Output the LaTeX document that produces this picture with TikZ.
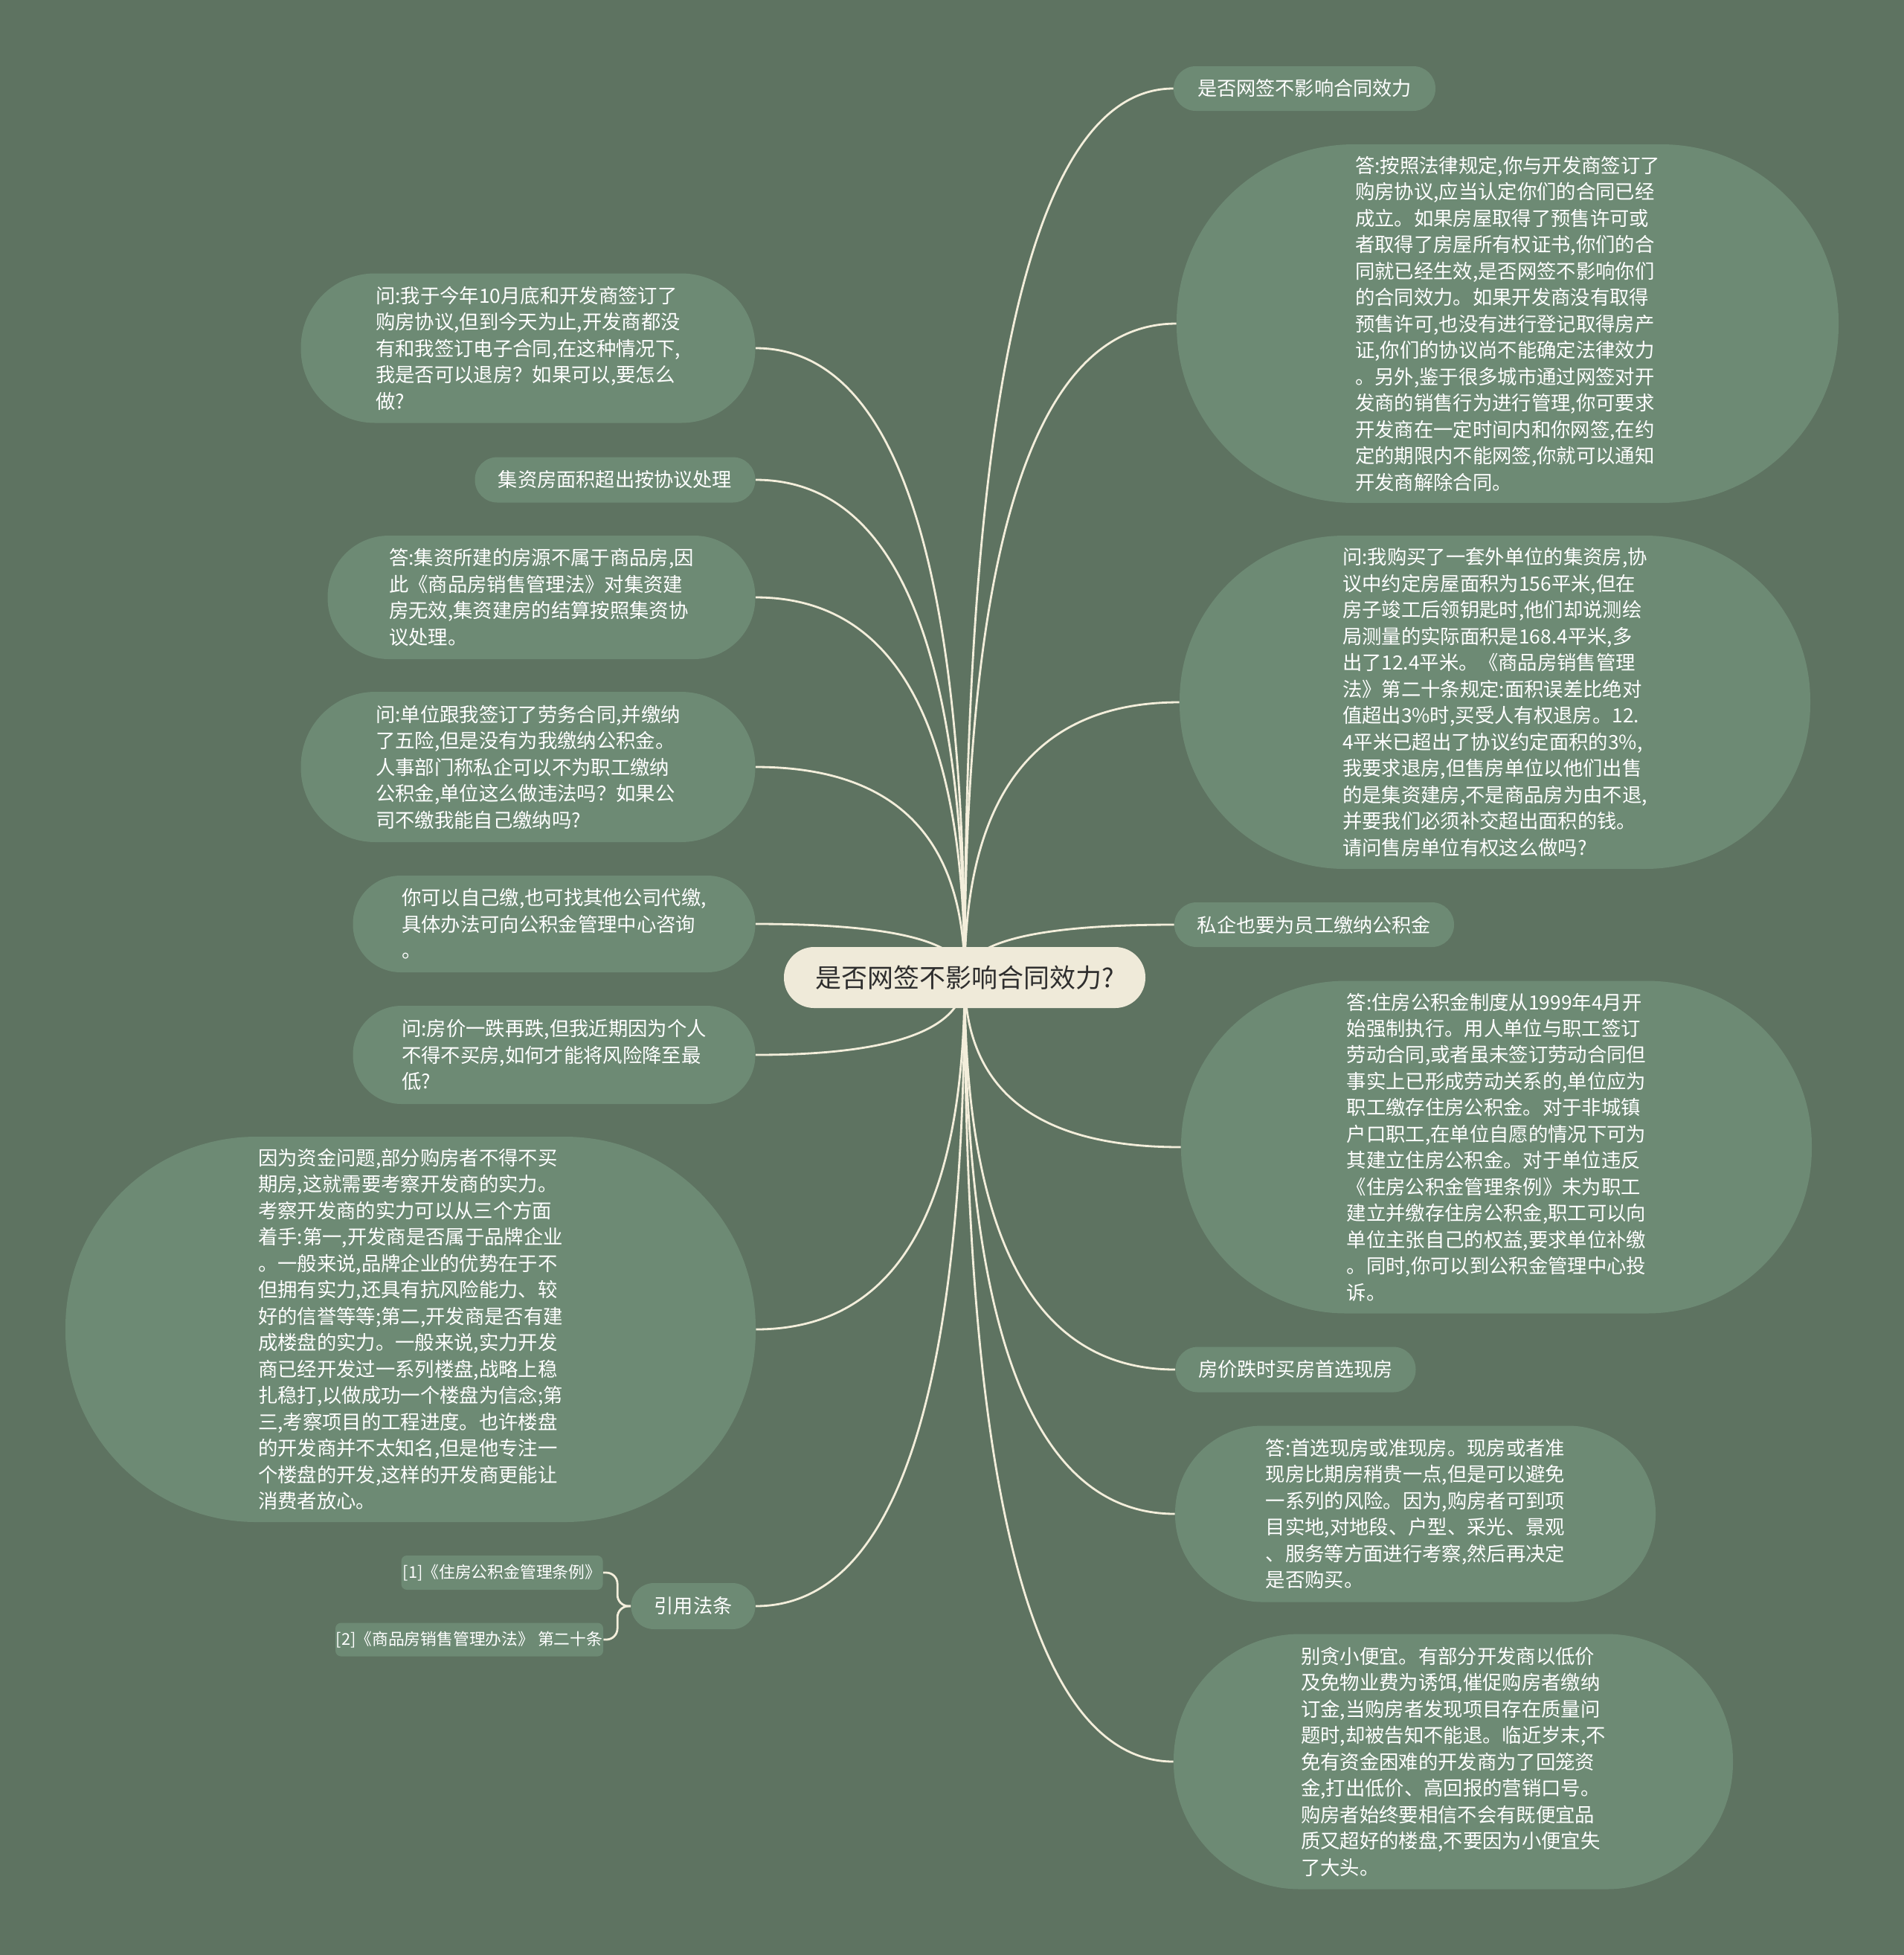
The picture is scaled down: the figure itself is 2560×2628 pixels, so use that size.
\documentclass[tikz,border=0pt]{standalone}
\usepackage{fontspec}
\newfontfamily\cjk{Noto Sans CJK SC}
\usetikzlibrary{calc}
\definecolor{MapGround}{HTML}{5E7361}
\definecolor{MapLeaf}{HTML}{6D8A74}
\definecolor{MapCream}{HTML}{EFEAD9}
\definecolor{MapLine}{HTML}{F3EEDB}
\definecolor{MapInk}{HTML}{2E2E2E}
\pgfdeclarelayer{ground}
\pgfdeclarelayer{links}
\pgfsetlayers{ground,links,main}
\tikzset{
  mapleaf/.style={
    fill=MapLeaf,
    text=white,
    align=left,
    inner xsep=0pt,
    inner ysep=3pt,
    font=\cjk\fontsize{15}{20.2}\selectfont
  },
  maptopic/.style={mapleaf,font=\cjk\fontsize{14.9}{20}\selectfont},
  mapref/.style={mapleaf,font=\cjk\fontsize{12.4}{16}\selectfont},
  maphub/.style={
    fill=MapCream,
    text=MapInk,
    font=\cjk\fontsize{19.9}{24}\selectfont
  },
  pill/.style 2 args={minimum width=#1*0.02cm,minimum height=#2*0.02cm,rounded corners=#2*0.0099cm},
  maplink/.style={draw=MapLine,line width=1.6pt},
  branch/.style={to path={.. controls ($(\tikztostart)!.667!(\tikztostart |- \tikztotarget)$)
    and ($(\tikztotarget)!.667!(\tikztostart |- \tikztotarget)$) .. (\tikztotarget)}}
}

\begin{document}
\begin{tikzpicture}[x=0.02cm,y=-0.02cm]
  \useasboundingbox (0,0) rectangle (2560,2628);
  \begin{pgfonlayer}{ground}
    \fill[MapGround] (0,0) rectangle (2560,2628);
  \end{pgfonlayer}

  \node[maphub,pill={486}{82}] (hub) at (1297,1314) {是否网签不影响合同效力?};

  % right side
  \node[maptopic,pill={352}{60}] (netsign) at (1754,119) {是否网签不影响合同效力};
  \node[mapleaf,pill={890}{482}] (signans) at (2027,435) {答:按照法律规定,你与开发商签订了\\购房协议,应当认定你们的合同已经\\成立。如果房屋取得了预售许可或\\者取得了房屋所有权证书,你们的合\\同就已经生效,是否网签不影响你们\\的合同效力。如果开发商没有取得\\预售许可,也没有进行登记取得房产\\证,你们的协议尚不能确定法律效力\\。另外,鉴于很多城市通过网签对开\\发商的销售行为进行管理,你可要求\\开发商在一定时间内和你网签,在约\\定的期限内不能网签,你就可以通知\\开发商解除合同。};
  \node[mapleaf,pill={848}{448}] (jiziq) at (2010,944) {问:我购买了一套外单位的集资房,协\\议中约定房屋面积为156平米,但在\\房子竣工后领钥匙时,他们却说测绘\\局测量的实际面积是168.4平米,多\\出了12.4平米。《商品房销售管理\\法》第二十条规定:面积误差比绝对\\值超出3\%时,买受人有权退房。12.\\4平米已超出了协议约定面积的3\%,\\我要求退房,但售房单位以他们出售\\的是集资建房,不是商品房为由不退,\\并要我们必须补交超出面积的钱。\\请问售房单位有权这么做吗?};
  \node[maptopic,pill={376}{60}] (fundtopic) at (1767,1243) {私企也要为员工缴纳公积金};
  \node[mapleaf,pill={848}{447}] (fundans) at (2012,1542) {答:住房公积金制度从1999年4月开\\始强制执行。用人单位与职工签订\\劳动合同,或者虽未签订劳动合同但\\事实上已形成劳动关系的,单位应为\\职工缴存住房公积金。对于非城镇\\户口职工,在单位自愿的情况下可为\\其建立住房公积金。对于单位违反\\《住房公积金管理条例》未为职工\\建立并缴存住房公积金,职工可以向\\单位主张自己的权益,要求单位补缴\\。同时,你可以到公积金管理中心投\\诉。};
  \node[maptopic,pill={323}{61}] (falltopic) at (1742,1841) {房价跌时买房首选现房};
  \node[mapleaf,pill={646}{237}] (fallans) at (1903,2035) {答:首选现房或准现房。现房或者准\\现房比期房稍贵一点,但是可以避免\\一系列的风险。因为,购房者可到项\\目实地,对地段、户型、采光、景观\\、服务等方面进行考察,然后再决定\\是否购买。};
  \node[mapleaf,pill={752}{343}] (cheap) at (1954,2368) {别贪小便宜。有部分开发商以低价\\及免物业费为诱饵,催促购房者缴纳\\订金,当购房者发现项目存在质量问\\题时,却被告知不能退。临近岁末,不\\免有资金困难的开发商为了回笼资\\金,打出低价、高回报的营销口号。\\购房者始终要相信不会有既便宜品\\质又超好的楼盘,不要因为小便宜失\\了大头。};

  % left side
  \node[mapleaf,pill={611}{201}] (refundq) at (710,468) {问:我于今年10月底和开发商签订了\\购房协议,但到今天为止,开发商都没\\有和我签订电子合同,在这种情况下,\\我是否可以退房？如果可以,要怎么\\做?};
  \node[maptopic,pill={377}{61}] (jizitopic) at (827,645) {集资房面积超出按协议处理};
  \node[mapleaf,pill={575}{166}] (jiziansw) at (728,803) {答:集资所建的房源不属于商品房,因\\此《商品房销售管理法》对集资建\\房无效,集资建房的结算按照集资协\\议处理。};
  \node[mapleaf,pill={611}{202}] (fundq) at (710,1031) {问:单位跟我签订了劳务合同,并缴纳\\了五险,但是没有为我缴纳公积金。\\人事部门称私企可以不为职工缴纳\\公积金,单位这么做违法吗？如果公\\司不缴我能自己缴纳吗?};
  \node[mapleaf,pill={541}{130}] (selfpay) at (745,1242) {你可以自己缴,也可找其他公司代缴,\\具体办法可向公积金管理中心咨询\\。};
  \node[mapleaf,pill={541}{132}] (fallq) at (745,1418) {问:房价一跌再跌,但我近期因为个人\\不得不买房,如何才能将风险降至最\\低?};
  \node[mapleaf,pill={928}{518}] (strength) at (552,1787) {因为资金问题,部分购房者不得不买\\期房,这就需要考察开发商的实力。\\考察开发商的实力可以从三个方面\\着手:第一,开发商是否属于品牌企业\\。一般来说,品牌企业的优势在于不\\但拥有实力,还具有抗风险能力、较\\好的信誉等等;第二,开发商是否有建\\成楼盘的实力。一般来说,实力开发\\商已经开发过一系列楼盘,战略上稳\\扎稳打,以做成功一个楼盘为信念;第\\三,考察项目的工程进度。也许楼盘\\的开发商并不太知名,但是他专注一\\个楼盘的开发,这样的开发商更能让\\消费者放心。};
  \node[maptopic,pill={167}{62}] (laws) at (932,2159) {引用法条};
  \node[mapref,minimum width=271*0.02cm,minimum height=46*0.02cm,rounded corners=0.15cm] (lawa) at (675,2114) {[1]《住房公积金管理条例》};
  \node[mapref,minimum width=360*0.02cm,minimum height=45*0.02cm,rounded corners=0.15cm] (lawb) at (631,2204) {[2]《商品房销售管理办法》 第二十条};

  \begin{pgfonlayer}{links}
    \draw[maplink] (hub.center) to[branch] (netsign.west);
    \draw[maplink] (hub.center) to[branch] (signans.west);
    \draw[maplink] (hub.center) to[branch] (jiziq.west);
    \draw[maplink] (hub.center) to[branch] (fundtopic.west);
    \draw[maplink] (hub.center) to[branch] (fundans.west);
    \draw[maplink] (hub.center) to[branch] (falltopic.west);
    \draw[maplink] (hub.center) to[branch] (fallans.west);
    \draw[maplink] (hub.center) to[branch] (cheap.west);
    \draw[maplink] (hub.center) to[branch] (refundq.east);
    \draw[maplink] (hub.center) to[branch] (jizitopic.east);
    \draw[maplink] (hub.center) to[branch] (jiziansw.east);
    \draw[maplink] (hub.center) to[branch] (fundq.east);
    \draw[maplink] (hub.center) to[branch] (selfpay.east);
    \draw[maplink] (hub.center) to[branch] (fallq.east);
    \draw[maplink] (hub.center) to[branch] (strength.east);
    \draw[maplink] (hub.center) to[branch] (laws.east);
    \draw[maplink,rounded corners=0.3cm] (laws.west) -- ++(-18,0) |- (lawa.east);
    \draw[maplink,rounded corners=0.3cm] (laws.west) -- ++(-18,0) |- (lawb.east);
  \end{pgfonlayer}
\end{tikzpicture}
\end{document}
